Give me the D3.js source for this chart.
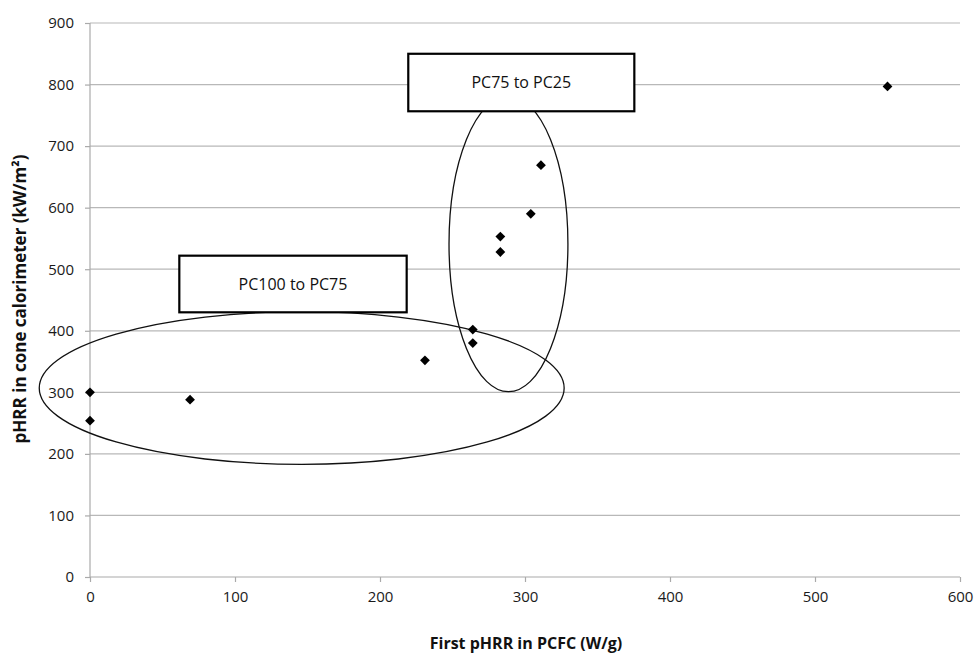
<!DOCTYPE html>
<html>
<head>
<meta charset="utf-8">
<script src="https://cdn.jsdelivr.net/npm/d3@7"></script>
<style>
  body { margin: 0; background: #fff; }
  .axis__label { font-family: "Open Sans", sans-serif; font-weight: bold; fill: #111; }
  .note text { font-family: "Open Sans", sans-serif; font-size: 16px; fill: #111; }
</style>
</head>
<body>
<div class="chart"></div>
<script>
// first pHRR in PCFC (W/g) vs pHRR in cone calorimeter (kW/m2)
const pcfc = [0, 0, 69, 231, 264, 264, 283, 283, 304, 311, 550]
const cone = [300, 254, 288, 352, 402, 380, 553, 528, 590, 669, 797]

const xTicks = [0, 100, 200, 300, 400, 500, 600]
const yTicks = [0, 100, 200, 300, 400, 500, 600, 700, 800, 900]

// groups drawn as ellipses in data units: cx, cy, rx, ry
const groupEllipses = [
  [146, 307, 181, 124],
  [288.6, 541, 41, 240]
]
// labels in boxes: text, x0, x1, yTop, yBottom (data units)
const groupLabels = [
  ['PC100 to PC75', 61.6, 218.4, 522, 430],
  ['PC75 to PC25', 219.5, 375.4, 850, 756.6]
]

const width = 975
const height = 658
const margin = { top: 23, right: 15, bottom: 81, left: 90 }
const innerWidth = width - margin.left - margin.right
const innerHeight = height - margin.top - margin.bottom

const svg = d3.select('.chart')
  .append('svg')
  .attr('width', width)
  .attr('height', height)
  .append('g')
  .attr('transform', `translate(${margin.left},${margin.top})`)

const x = d3.scaleLinear().domain([0, 600]).range([0, 870])
const y = d3.scaleLinear().domain([0, 900]).range([innerHeight, 0])

// horizontal gridlines
svg.append('g')
  .selectAll('line')
  .data(yTicks.filter(d => d > 0))
  .join('line')
  .attr('x1', 0)
  .attr('x2', x(600))
  .attr('y1', d => y(d))
  .attr('y2', d => y(d))
  .attr('stroke', '#b8b8b8')
  .attr('stroke-width', 1.2)

const yAxis = svg.append('g')
  .call(d3.axisLeft(y).tickValues(yTicks).tickSize(5).tickPadding(11))
yAxis.selectAll('line, path').attr('stroke', '#aaa').attr('stroke-width', 1.2)
yAxis.select('.domain').attr('d', `M0,${y(0)}V${y(900)}`)

const xAxis = svg.append('g')
  .attr('transform', `translate(0,${innerHeight})`)
  .call(d3.axisBottom(x).tickValues(xTicks).tickSize(5).tickPadding(9))
xAxis.selectAll('line, path').attr('stroke', '#aaa').attr('stroke-width', 1.2)
xAxis.select('.domain').attr('d', `M0,0H${x(600)}`)

svg.selectAll('.tick text')
  .style('font-family', '"Open Sans", sans-serif')
  .style('font-size', '15px')
  .style('fill', '#1a1a1a')

// axis titles
svg.append('text')
  .attr('class', 'axis__label')
  .attr('font-size', 16)
  .attr('x', 436)
  .attr('y', innerHeight + 72)
  .attr('text-anchor', 'middle')
  .text('First pHRR in PCFC (W/g)')

svg.append('text')
  .attr('class', 'axis__label')
  .attr('font-size', 17)
  .attr('transform', `translate(-64,${276}) rotate(-90)`)
  .attr('text-anchor', 'middle')
  .text('pHRR in cone calorimeter (kW/m²)')

// ellipses
svg.append('g')
  .selectAll('ellipse')
  .data(groupEllipses)
  .join('ellipse')
  .attr('cx', d => x(d[0]))
  .attr('cy', d => y(d[1]))
  .attr('rx', d => x(d[2]) - x(0))
  .attr('ry', d => y(0) - y(d[3]))
  .attr('fill', 'none')
  .attr('stroke', '#111')
  .attr('stroke-width', 1.3)

// label boxes
const notes = svg.append('g')
  .attr('class', 'note')
  .selectAll('g')
  .data(groupLabels)
  .join('g')

notes.append('rect')
  .attr('x', d => x(d[1]))
  .attr('y', d => y(d[3]))
  .attr('width', d => x(d[2]) - x(d[1]))
  .attr('height', d => y(d[4]) - y(d[3]))
  .attr('fill', '#fff')
  .attr('stroke', '#000')
  .attr('stroke-width', 2.2)

notes.append('text')
  .attr('x', d => (x(d[1]) + x(d[2])) / 2)
  .attr('y', d => (y(d[3]) + y(d[4])) / 2)
  .attr('dy', '0.35em')
  .attr('text-anchor', 'middle')
  .text(d => d[0])

// diamonds
const diamond = d3.symbol().type(d3.symbolSquare).size(48)
svg.append('g')
  .selectAll('path')
  .data(pcfc.map((d, i) => [d, cone[i]]))
  .join('path')
  .attr('d', diamond)
  .attr('transform', d => `translate(${x(d[0])},${y(d[1])}) rotate(45)`)
  .attr('fill', '#000')
</script>
</body>
</html>
